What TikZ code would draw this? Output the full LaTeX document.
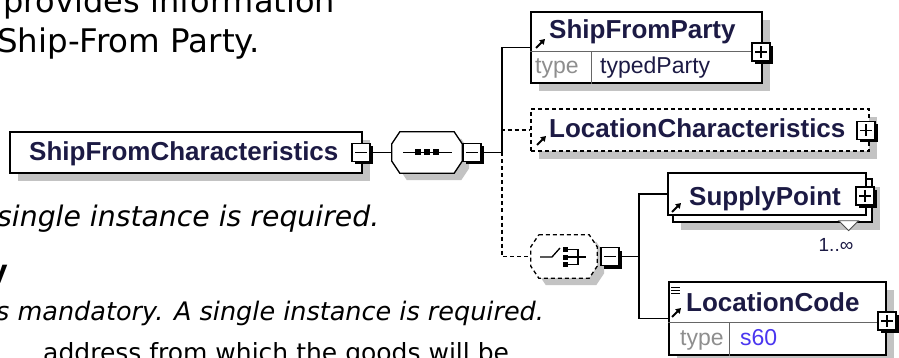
\documentclass[tikz,border=0pt]{standalone}
\usepackage{fontspec}
\setmainfont{DejaVu Sans}
\newfontfamily\xsfont{Liberation Sans}
\usetikzlibrary{calc,shadows,arrows.meta}

\definecolor{shadowgray}{HTML}{C3C3C3}
\definecolor{namecol}{HTML}{1C1A44}
\definecolor{typecol}{HTML}{8E8E8E}
\definecolor{simplecol}{HTML}{4A36F0}

\tikzset{
  elembox/.style={draw=black, line width=1.3pt, fill=white, inner sep=0pt,
    drop shadow={shadow xshift=8pt, shadow yshift=-8pt, fill=shadowgray, opacity=1}},
  optbox/.style={elembox, dash pattern=on 4pt off 3pt},
  plainbox/.style={draw=black, line width=1.3pt, fill=white, inner sep=0pt},
  togglebtn/.style={draw=black, line width=1.5pt, fill=white, minimum size=18pt, inner sep=0pt,
    drop shadow={shadow xshift=3pt, shadow yshift=-3pt, fill=black, opacity=1}},
  hub/.style={draw=none, inner sep=0pt, minimum width=#1},
  elemname/.style={font=\xsfont\bfseries\fontsize{26}{30}\selectfont, text=namecol, inner sep=0pt, anchor=base west},
  typetag/.style={font=\xsfont\fontsize{23}{26}\selectfont, text=typecol, inner sep=0pt, anchor=base west},
  typename/.style={font=\xsfont\fontsize{23}{26}\selectfont, text=namecol, inner sep=0pt, anchor=base west},
  bgtext/.style={font=\fontsize{32}{38}\selectfont, inner sep=0pt, anchor=base west},
  bgitalic/.style={font=\itshape\fontsize{#1}{32}\selectfont, inner sep=0pt, anchor=base west},
  conn/.style={draw=black, line width=1.3pt},
  optconn/.style={conn, dash pattern=on 4pt off 3pt},
  rowline/.style={draw=black!60, line width=1pt},
  refarrow/.pic={\draw[line width=2pt, -{Triangle[length=5pt,width=6pt]}] (0,0) -- (9,-9);}
}

% +/- signs inside the toggle buttons
\newcommand{\minussign}[1]{\draw[line width=1.4pt] ($(#1.center)+(-6,0)$) -- ($(#1.center)+(6,0)$);}
\newcommand{\plussign}[1]{\minussign{#1}\draw[line width=1.4pt] ($(#1.center)+(0,-6)$) -- ($(#1.center)+(0,6)$);}

% octagon outline of a compositor round a node
\newcommand{\compositor}[2]{%
  \fill[shadowgray] ($(#1.north west)+(15,7)$) -- ($(#1.north east)+(-1,7)$) -- ($(#1.north east)+(7,19)$)
    -- ($(#1.south east)+(7,-5)$) -- ($(#1.south east)+(-1,7)$) -- ($(#1.south west)+(15,7)$)
    -- ($(#1.south west)+(7,-5)$) -- ($(#1.north west)+(7,19)$) -- cycle;
  \draw[line width=1.3pt, fill=white, #2] ($(#1.north west)+(8,0)$) -- ($(#1.north east)+(-8,0)$) -- ($(#1.north east)+(0,12)$)
    -- ($(#1.south east)+(0,-12)$) -- ($(#1.south east)+(-8,0)$) -- ($(#1.south west)+(8,0)$)
    -- ($(#1.south west)+(0,-12)$) -- ($(#1.north west)+(0,12)$) -- cycle;}

\begin{document}
\begin{tikzpicture}[x=1pt, y=-1pt]
\useasboundingbox (0,0) rectangle (899,358);

% Page text behind the diagram
\node[bgtext] (para1) at (3,13) {provides information};
\node[bgtext, font=\fontsize{32.5}{38}\selectfont] (para2) at (-3,53) {Ship-From Party.};
\node[bgitalic=28.3] (para3) at (-3,226) {single instance is required.};
\node[font=\bfseries\fontsize{28}{32}\selectfont, inner sep=0pt, anchor=base east] (para4) at (8,280) {y};
\node[bgitalic=25.5] (para5) at (-4,320) {s mandatory. A single instance is required.};
\node[font=\fontsize{25}{30}\selectfont, inner sep=0pt, anchor=base west] (para6) at (43,361) {address from which the goods will be};

% Root element
\node[elembox, minimum width=352pt, minimum height=41pt] (sfc) at (186,152.5) {};
\node[elemname] (sfcname) at (29,161) {ShipFromCharacteristics};
\node[togglebtn] (sfcbtn) at (361,152.5) {};
\minussign{sfcbtn}

% Sequence
\node[hub=70pt, minimum height=41pt] (seq) at (427,152.5) {};
\compositor{seq}{}
\draw[line width=1.3pt] ($(seq.center)+(-24,0)$) -- ($(seq.center)+(25,0)$);
\foreach \dx in {-9,0,9}
  \fill ($(seq.center)+(\dx-3,-3)$) rectangle ($(seq.center)+(\dx+3,3)$);
\node[togglebtn] (seqbtn) at (472,152.5) {};
\minussign{seqbtn}
\coordinate (jn1) at (502,152.5);

% ShipFromParty
\node[elembox, minimum width=231pt, minimum height=71pt] (sfp) at (646.5,47.5) {};
\draw[rowline] ($(sfp.north west)+(0,40)$) -- ($(sfp.north east)+(0,40)$);
\draw[rowline] ($(sfp.north west)+(61,40)$) -- ($(sfp.south west)+(61,0)$);
\node[elemname] (sfpname) at (549,39) {ShipFromParty};
\node[typetag] (sfptag) at (535,74) {type};
\node[typename] (sfptype) at (600,74) {typedParty};
\pic at (536,48) {refarrow};
\node[togglebtn] (sfpbtn) at (761,52) {};
\plussign{sfpbtn}

% LocationCharacteristics (optional)
\node[optbox, minimum width=338pt, minimum height=42pt] (lch) at (700,130) {};
\node[elemname] (lchname) at (549,138) {LocationCharacteristics};
\pic at (537,145) {refarrow};
\node[togglebtn] (lchbtn) at (866,130.5) {};
\plussign{lchbtn}

% Choice (optional)
\node[hub=66pt, minimum height=43pt] (cho) at (564,256.5) {};
\compositor{cho}{dash pattern=on 4pt off 3pt}
\draw[line width=1.3pt] ($(cho.center)+(-24,0.5)$) -- ($(cho.center)+(-12,0.5)$) -- ($(cho.center)+(-4,-8.5)$);
\foreach \dy in {-7,0.5,8}
  \fill ($(cho.center)+(-1,\dy-2.5)$) rectangle ($(cho.center)+(4,\dy+2.5)$);
\draw[line width=1.2pt] ($(cho.center)+(4,-7)$) -- ($(cho.center)+(14,-7)$) -- ($(cho.center)+(14,8)$) -- ($(cho.center)+(4,8)$);
\draw[line width=1.2pt] ($(cho.center)+(4,0.5)$) -- ($(cho.center)+(22,0.5)$);
\node[togglebtn] (chobtn) at (610,256.5) {};
\minussign{chobtn}
\coordinate (jn2) at (639,256.5);

% SupplyPoint (repeating)
\node[elembox, minimum width=199pt, minimum height=43pt] (sptback) at (772.5,200.5) {};
\node[plainbox, minimum width=198pt, minimum height=42pt] (spt) at (767,194) {};
\node[elemname] (sptname) at (689,205) {SupplyPoint};
\pic at (672,212) {refarrow};
\node[togglebtn] (sptbtn) at (865,196) {};
\plussign{sptbtn}
\draw[fill=white, draw=black!70, line width=0.8pt] ($(sptback.south east)+(-34,-2)$) -- ($(sptback.south east)+(-14,-2)$) -- ($(sptback.south east)+(-24,8)$) -- cycle;
\node[font=\xsfont\fontsize{19}{22}\selectfont, text=namecol, inner sep=0pt] (occ) at (836,245) {1..∞};

% LocationCode
\node[elembox, minimum width=217pt, minimum height=73pt] (lco) at (777.5,318.5) {};
\draw[rowline] ($(lco.north west)+(0,41)$) -- ($(lco.north east)+(0,41)$);
\draw[rowline] ($(lco.north west)+(61,41)$) -- ($(lco.south west)+(61,0)$);
\foreach \dy in {6,9,12}
  \draw[line width=0.9pt] ($(lco.north west)+(3,\dy)$) -- ($(lco.north west)+(12,\dy)$);
\node[elemname] (lconame) at (686,311) {LocationCode};
\node[typetag] (lcotag) at (680,345) {type};
\node[typename, text=simplecol] (lcotype) at (740,345) {s60};
\pic at (672,317) {refarrow};
\node[togglebtn] (lcobtn) at (887,321) {};
\plussign{lcobtn}

% Connectors
\draw[conn] (sfcbtn.east) -- (seq.west);
\draw[conn] (seqbtn.east) -- (jn1);
\draw[conn] (jn1) |- (sfp.west);
\draw[optconn] (jn1) |- (lch.west);
\draw[optconn] (jn1) |- (cho.west);
\draw[conn] (chobtn.east) -- (jn2);
\draw[conn] (jn2) |- (spt.west);
\draw[conn] (jn2) |- (lco.west);
\end{tikzpicture}
\end{document}
